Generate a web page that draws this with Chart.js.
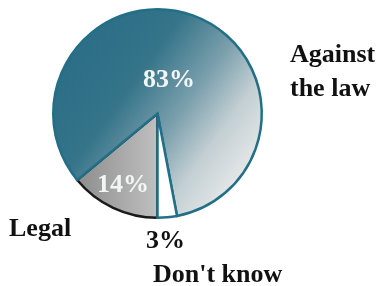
<!DOCTYPE html>
<html>
<head>
<meta charset="utf-8">
<script src="https://cdn.jsdelivr.net/npm/chart.js@4"></script>
<style>
  html, body { margin: 0; padding: 0; background: #fff; }
  #wrap { width: 378px; height: 286px; position: relative; }
</style>
</head>
<body>
<div id="wrap"><canvas id="pieChart" width="378" height="286"></canvas></div>
<script>
// categories, drawn clockwise starting from straight down
const categories = ['Legal', 'Against the law', "Don't know"];
const shares = [14, 83, 3];
const shareLabels = ['14%', '83%', '3%'];

const teal = '#226f87';

// slice fill for each category
function sliceFill(ctx) {
    const chart = ctx.chart;
    const area = chart.chartArea;
    if (!area) return '#888';
    const c = chart.ctx;
    if (ctx.dataIndex === 0) {
        const g = c.createLinearGradient(area.left + 20, 0, area.left + 110, 0);
        g.addColorStop(0, '#8a8a8a');
        g.addColorStop(1, '#c2c2c2');
        return g;
    }
    if (ctx.dataIndex === 1) {
        const g = c.createLinearGradient(area.left + 30, area.top + 30, area.right, area.bottom - 50);
        g.addColorStop(0, '#2b6e87');
        g.addColorStop(0.3, '#357489');
        g.addColorStop(0.55, '#7a9fac');
        g.addColorStop(0.75, '#c3cfd3');
        g.addColorStop(1, '#eeeeee');
        return g;
    }
    return '#ffffff';
}

// texts around and on the pie
const textPlugin = {
    id: 'pieTexts',
    afterDraw(chart) {
        const c = chart.ctx;
        c.save();
        c.font = 'bold 26px "Liberation Serif", "Times New Roman", serif';
        c.textBaseline = 'alphabetic';
        c.textAlign = 'left';
        // inside
        c.fillStyle = '#f4f6f6';
        c.fillText(shareLabels[1], 143, 87);
        c.fillText(shareLabels[0], 97, 192);
        // outside
        c.fillStyle = '#111111';
        c.fillText('Against', 290, 62);
        c.fillText('the law', 290, 96);
        c.fillText(categories[0], 9, 236);
        c.fillText(shareLabels[2], 146, 248);
        c.fillText(categories[2], 153, 282);
        c.restore();
    }
};

new Chart(document.getElementById('pieChart').getContext('2d'), {
    type: 'pie',
    data: {
        labels: categories,
        datasets: [{
            data: shares,
            backgroundColor: sliceFill,
            borderColor: ['#1a1a1a', teal, teal],
            borderWidth: 2.5,
            borderJoinStyle: 'miter'
        }]
    },
    options: {
        responsive: false,
        animation: false,
        rotation: 180,
        layout: { padding: { top: 8, bottom: 67, left: 52, right: 115 } },
        plugins: {
            legend: { display: false },
            tooltip: { enabled: false }
        }
    },
    plugins: [textPlugin]
});
</script>
</body>
</html>
